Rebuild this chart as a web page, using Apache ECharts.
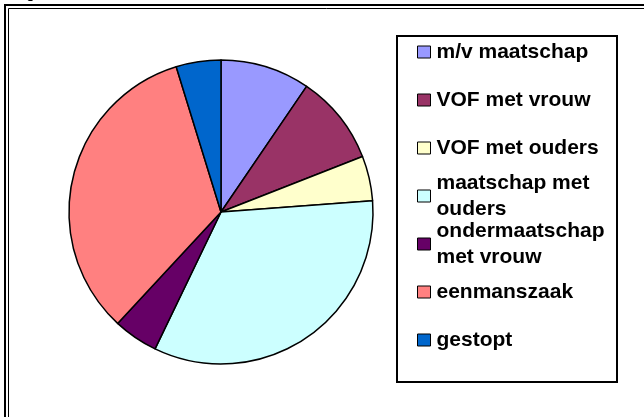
<!DOCTYPE html>
<html>
<head>
<meta charset="utf-8">
<script src="https://cdn.jsdelivr.net/npm/echarts@6/dist/echarts.min.js"></script>
<style>
  html, body { margin: 0; padding: 0; background: #fff; }
  #chart { width: 644px; height: 417px; }
</style>
</head>
<body>
<div id="chart"></div>
<script>
  const categories = ['m/v maatschap', 'VOF met vrouw', 'VOF met ouders', 'maatschap met ouders', 'ondermaatschap met vrouw', 'eenmanszaak', 'gestopt']
  const values = [2, 2, 1, 7, 1, 7, 1]
  const colors = ['#9999FF', '#993366', '#FFFFCC', '#CCFFFF', '#660066', '#FF8080', '#0066CC']

  const FONT = "'Liberation Sans', Arial, sans-serif"
  const LINE = 26

  let myChart = echarts.init(document.getElementById('chart'))

  myChart.setOption({
    animation: false,
    color: colors,
    graphic: [
      // dubbele kaderlijn
      { type: 'rect', shape: { x: 5, y: 5, width: 660, height: 440 }, style: { fill: 'none', stroke: '#000', lineWidth: 2 }, silent: true },
      { type: 'rect', shape: { x: 8.5, y: 8.5, width: 660, height: 440 }, style: { fill: 'none', stroke: '#000', lineWidth: 1 }, silent: true },
      // afgesneden titel bovenaan
      { type: 'text', x: 26, y: -14, style: { text: 'g', font: '16px ' + FONT, fill: '#000' }, silent: true },
      // legendakader
      { type: 'rect', shape: { x: 397, y: 36, width: 220, height: 346 }, style: { fill: '#fff', stroke: '#000', lineWidth: 2 }, silent: true, z: -1 }
    ],
    legend: {
      orient: 'vertical',
      left: 417,
      top: 13,
      padding: 0,
      itemGap: -30,
      itemWidth: 13,
      itemHeight: 12,
      icon: 'rect',
      selectedMode: false,
      itemStyle: { borderColor: '#000', borderWidth: 1 },
      textStyle: {
        fontFamily: FONT,
        fontSize: 21,
        fontWeight: 'bold',
        color: '#000',
        lineHeight: LINE,
        width: 174,
        overflow: 'break'
      },
      data: categories.map(name => ({
        name,
        textStyle: {
          // tweeregelige namen: eerste regel naast het blokje
          padding: name.length > 16 ? [LINE, 0, 0, 1] : [LINE, 0, LINE, 1]
        }
      }))
    },
    series: [
      {
        type: 'pie',
        center: [221, 212],
        radius: 152,
        startAngle: 90,
        clockwise: true,
        silent: true,
        label: { show: false },
        labelLine: { show: false },
        itemStyle: { borderColor: '#000', borderWidth: 1.5 },
        data: categories.map((name, i) => ({ name, value: values[i] }))
      }
    ]
  })
</script>
</body>
</html>
